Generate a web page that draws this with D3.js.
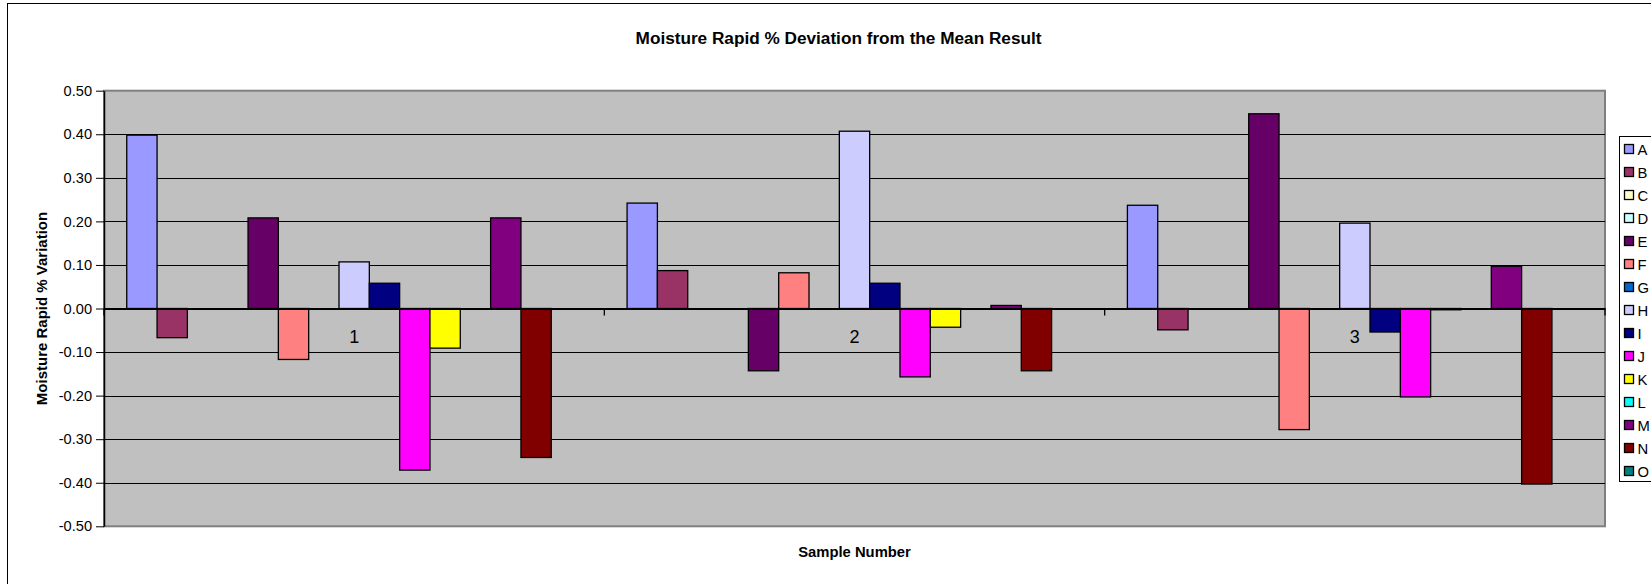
<!DOCTYPE html>
<html>
<head>
<meta charset="utf-8">
<script src="https://cdn.jsdelivr.net/npm/d3@7"></script>
<style>
  html, body { margin: 0; padding: 0; background: #fff; }
  svg { display: block; font-family: "Liberation Sans", Arial, sans-serif; }
</style>
</head>
<body>
<svg id="chart" width="1651" height="584"></svg>
<script>
// ---- data ----
const categories = ["1", "2", "3"];
const seriesNames = ["A","B","C","D","E","F","G","H","I","J","K","L","M","N","O"];
const seriesColors = ["#9999FF","#993366","#FFFFCC","#CCFFFF","#660066","#FF8080","#0066CC","#CCCCFF","#000080","#FF00FF","#FFFF00","#00FFFF","#800080","#800000","#008080"];
const valuesA = [0.398, 0.242, 0.237];
const valuesB = [-0.067, 0.087, -0.049];
const valuesC = [0, 0, 0];
const valuesD = [0, 0, 0];
const valuesE = [0.208, -0.143, 0.447];
const valuesF = [-0.117, 0.082, -0.278];
const valuesG = [0, 0, 0];
const valuesH = [0.107, 0.407, 0.196];
const valuesI = [0.058, 0.058, -0.054];
const valuesJ = [-0.371, -0.157, -0.203];
const valuesK = [-0.091, -0.043, -0.003];
const valuesL = [0, 0, 0];
const valuesM = [0.208, 0.007, 0.097];
const valuesN = [-0.342, -0.143, -0.403];
const valuesO = [0, 0, 0];
const yTickValues = [-0.5, -0.4, -0.3, -0.2, -0.1, 0, 0.1, 0.2, 0.3, 0.4, 0.5];
const yTickLabels = ["-0.50","-0.40","-0.30","-0.20","-0.10","0.00","0.10","0.20","0.30","0.40","0.50"];
const titleText = "Moisture Rapid % Deviation from the Mean Result";
const xTitleText = "Sample Number";
const yTitleText = "Moisture Rapid % Variation";

const seriesValues = [valuesA,valuesB,valuesC,valuesD,valuesE,valuesF,valuesG,valuesH,valuesI,valuesJ,valuesK,valuesL,valuesM,valuesN,valuesO];

// ---- layout ----
const svg = d3.select("#chart");
const plot = { left: 104, right: 1605, top: 90.7, bottom: 526.3 };

// outer chart border
svg.append("rect")
  .attr("x", 7.5).attr("y", 3.5)
  .attr("width", 1700).attr("height", 700)
  .attr("fill", "#fff").attr("stroke", "#000").attr("stroke-width", 1);

const x0 = d3.scaleBand().domain(categories).range([plot.left, plot.right]).paddingInner(0).paddingOuter(0);
const x1 = d3.scaleBand().domain(seriesNames).range([0, x0.bandwidth()]).paddingInner(0).paddingOuter(0.75);
const y = d3.scaleLinear().domain([-0.5, 0.5]).range([plot.bottom, plot.top]);

// plot background
svg.append("rect")
  .attr("x", plot.left).attr("y", plot.top)
  .attr("width", plot.right - plot.left).attr("height", plot.bottom - plot.top)
  .attr("fill", "#C0C0C0").attr("stroke", "#808080").attr("stroke-width", 2);

// gridlines
svg.append("g").selectAll("line")
  .data(yTickValues.filter(v => v !== 0 && v !== -0.5 && v !== 0.5))
  .join("line")
  .attr("x1", plot.left).attr("x2", plot.right)
  .attr("y1", d => Math.round(y(d)) + 0.5).attr("y2", d => Math.round(y(d)) + 0.5)
  .attr("stroke", "#000").attr("stroke-width", 1);

// y axis
const yAxis = d3.axisLeft(y)
  .tickValues(yTickValues)
  .tickFormat((d, i) => yTickLabels[i])
  .tickSize(8).tickSizeOuter(0).tickPadding(4);
const gy = svg.append("g").attr("transform", `translate(${plot.left},0)`).call(yAxis);
gy.selectAll("text").attr("font-size", "14.6px").attr("fill", "#000").attr("font-family", "Liberation Sans, Arial, sans-serif");
gy.selectAll("line").attr("stroke", "#000");
gy.select(".domain").attr("stroke", "#000").attr("stroke-width", 1.5);

// bars
const groups = svg.append("g").selectAll("g")
  .data(categories)
  .join("g")
  .attr("transform", d => `translate(${x0(d)},0)`);

groups.selectAll("rect")
  .data((c, ci) => seriesNames.map((s, si) => ({ s, si, v: seriesValues[si][ci] })))
  .join("rect")
  .filter(d => d.v !== 0)
  .attr("x", d => x1(d.s))
  .attr("width", x1.bandwidth())
  .attr("y", d => y(Math.max(0, d.v)))
  .attr("height", d => Math.abs(y(d.v) - y(0)))
  .attr("fill", d => seriesColors[d.si])
  .attr("stroke", "#000").attr("stroke-width", 1.3);

// category axis at zero
const xAxis = d3.axisBottom(x0).tickSize(0).tickPadding(22);
const gx = svg.append("g").attr("transform", `translate(0,${y(0)})`).call(xAxis);
gx.select(".domain").attr("stroke", "#000").attr("stroke-width", 1.8);
gx.selectAll("text").attr("font-size", "18px").attr("fill", "#000").attr("font-family", "Liberation Sans, Arial, sans-serif");
// boundary tick marks
const bounds = categories.map(c => x0(c)).concat([x0(categories[categories.length - 1]) + x0.bandwidth()]);
svg.append("g").selectAll("line")
  .data(bounds)
  .join("line")
  .attr("x1", d => d).attr("x2", d => d)
  .attr("y1", y(0)).attr("y2", y(0) + 7)
  .attr("stroke", "#000").attr("stroke-width", 1.3);

// titles
svg.append("text")
  .attr("x", 838.5).attr("y", 44)
  .attr("text-anchor", "middle")
  .attr("font-weight", "bold").attr("font-size", "17.2px")
  .text(titleText);

svg.append("text")
  .attr("x", (plot.left + plot.right) / 2).attr("y", 556.5)
  .attr("text-anchor", "middle")
  .attr("font-weight", "bold").attr("font-size", "14.8px")
  .text(xTitleText);

svg.append("text")
  .attr("transform", `translate(47,${(plot.top + plot.bottom) / 2}) rotate(-90)`)
  .attr("text-anchor", "middle")
  .attr("font-weight", "bold").attr("font-size", "15px")
  .text(yTitleText);

// legend
const legend = svg.append("g");
legend.append("rect")
  .attr("x", 1619.5).attr("y", 136.5)
  .attr("width", 60).attr("height", 345)
  .attr("fill", "#fff").attr("stroke", "#000").attr("stroke-width", 1);
const items = legend.selectAll("g.item")
  .data(seriesNames)
  .join("g").attr("class", "item")
  .attr("transform", (d, i) => `translate(1624,${149 + i * 23})`);
items.append("rect")
  .attr("x", 0.5).attr("y", -4.5).attr("width", 9).attr("height", 9)
  .attr("fill", (d, i) => seriesColors[i])
  .attr("stroke", "#000").attr("stroke-width", 1.3);
items.append("text")
  .attr("x", 13.5).attr("y", 5.5)
  .attr("font-size", "14.8px")
  .text(d => d);
</script>
</body>
</html>
